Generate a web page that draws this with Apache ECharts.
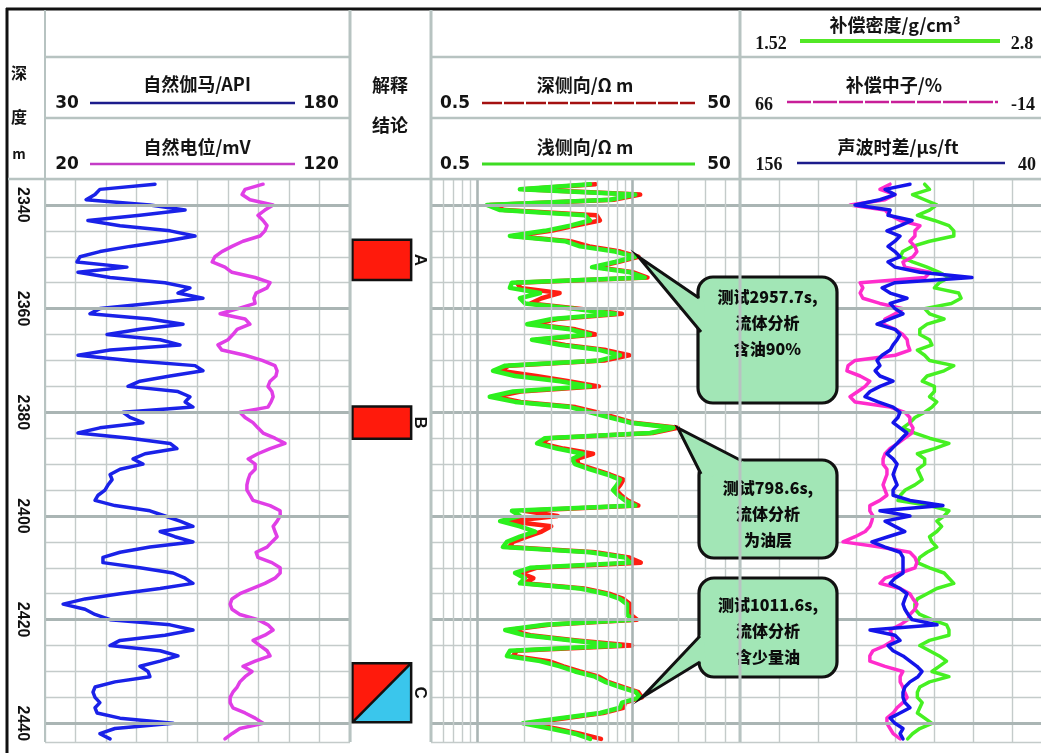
<!DOCTYPE html>
<html>
<head>
<meta charset="utf-8">
<script src="https://cdn.jsdelivr.net/npm/echarts@6/dist/echarts.min.js"></script>
<style>
  html, body { margin: 0; padding: 0; background: #fff; }
  #chart { width: 1041px; height: 753px; }
</style>
</head>
<body>
<div id="chart"></div>
<script>
// ---------------- well log samples (1 m step) ----------------
const depths = [
  2336,2337,2338,2339,2340,2341,2342,2343,2344,2345,2346,2347,2348,2349,2350,2351,2352,2353,2354,2355,
  2356,2357,2358,2359,2360,2361,2362,2363,2364,2365,2366,2367,2368,2369,2370,2371,2372,2373,2374,2375,
  2376,2377,2378,2379,2380,2381,2382,2383,2384,2385,2386,2387,2388,2389,2390,2391,2392,2393,2394,2395,
  2396,2397,2398,2399,2400,2401,2402,2403,2404,2405,2406,2407,2408,2409,2410,2411,2412,2413,2414,2415,
  2416,2417,2418,2419,2420,2421,2422,2423,2424,2425,2426,2427,2428,2429,2430,2431,2432,2433,2434,2435,
  2436,2437,2438,2439,2440,2441,2442,2443
];
// 自然伽马 (API)
const gammaRay = [
  84.1,57.0,54.6,50.2,81.6,98.9,76.7,51.1,66.9,91.5,103.8,89.0,71.8,57.0,47.2,45.7,70.3,46.2,62.0,89.0,
  101.3,95.4,107.7,81.6,57.0,52.1,81.6,97.9,76.7,60.5,86.6,96.4,62.0,46.2,71.8,103.8,107.7,91.5,76.7,70.8,
  95.4,101.3,98.9,102.8,68.4,71.8,78.2,57.0,46.2,71.8,91.5,94.9,79.2,73.3,78.2,66.9,62.0,63.0,61.0,59.5,
  56.1,54.6,64.4,81.6,89.0,96.4,102.8,86.6,93.9,102.8,81.6,66.9,58.5,58.5,76.7,93.0,98.9,102.8,86.6,66.9,
  49.7,38.9,49.7,54.6,62.0,91.5,102.8,89.0,66.9,62.0,86.6,95.4,86.6,76.7,80.7,81.6,64.4,54.6,53.6,54.6,
  57.0,54.6,55.6,66.9,93.0,64.4,57.0,62.0
];
// 自然电位 (mV)
const spontaneousPotential = [
  91.5,85.6,84.6,87.2,94.8,92.1,89.8,91.5,92.8,92.1,90.5,84.9,81.3,78.0,75.7,74.8,79.0,81.3,88.9,93.8,
  92.8,89.2,88.5,88.9,83.3,77.4,85.6,87.2,83.0,81.6,80.0,76.7,78.0,85.6,91.2,95.4,96.1,95.7,93.8,93.1,
  94.4,94.8,94.1,93.1,83.9,85.6,88.2,89.8,91.5,95.4,98.7,93.8,89.8,86.6,88.9,88.9,87.2,86.6,86.2,86.2,
  87.2,88.2,93.8,97.1,97.1,96.1,94.8,95.4,96.1,94.4,92.8,89.2,89.8,94.4,97.1,97.1,95.4,92.1,87.9,83.9,
  81.3,80.7,81.3,83.9,89.8,93.1,94.8,92.1,88.2,90.5,92.8,93.8,88.9,84.9,87.9,85.6,83.9,83.0,81.6,80.7,
  80.7,81.6,85.6,88.9,91.5,83.9,81.3,79.0
];
// 深侧向 (Ω·m)
const deepRes = [
  5.8,2.0,11.3,7.6,1.2,1.5,5.9,6.2,4.3,3.0,1.7,4.0,5.3,8.4,11.0,8.1,5.9,10.2,12.6,1.8,
  1.9,3.4,2.6,2.2,4.4,8.6,3.3,2.3,4.3,5.8,2.4,3.7,6.8,9.6,6.6,1.6,1.4,2.4,3.9,6.1,
  1.9,1.3,1.9,4.3,5.9,7.8,10.2,19.8,13.6,2.9,2.6,3.6,5.6,4.4,4.5,5.7,7.2,8.8,8.4,7.9,
  8.5,9.4,11.0,2.0,3.3,1.6,3.0,2.6,2.1,1.7,1.6,5.8,9.6,11.4,2.4,1.9,2.3,2.0,4.9,7.1,
  8.8,9.7,9.7,9.8,10.8,2.9,1.6,2.2,4.4,10.0,1.8,1.7,2.9,3.6,4.6,6.1,7.0,8.8,11.0,11.6,
  9.0,8.8,6.5,3.7,2.1,3.2,4.6,6.3
];
// 浅侧向 (Ω·m)
const shallowRes = [
  5.35,1.88,10.5,7.21,1.15,1.40,4.96,5.35,3.97,2.73,1.62,3.68,4.61,7.76,10.5,7.76,5.51,9.70,12.1,1.67,
  1.62,2.54,1.88,2.03,4.09,7.76,3.03,2.09,3.97,5.35,2.25,3.42,6.21,8.36,6.21,1.51,1.26,1.75,3.42,5.35,
  1.70,1.20,1.75,3.97,5.35,7.21,9.70,18.5,13.1,2.73,2.43,3.27,4.82,4.09,4.28,5.35,6.89,8.36,8.00,7.53,
  8.12,9.01,10.5,1.67,1.88,1.40,1.88,2.36,1.88,1.55,1.46,5.35,9.01,9.70,2.19,1.75,2.03,1.88,4.61,6.69,
  8.36,9.28,9.28,9.28,10.1,2.73,1.51,2.03,4.09,8.36,1.62,1.55,2.54,3.42,4.28,5.76,6.69,8.36,10.6,11.3,
  8.62,8.36,6.21,3.42,1.97,2.95,4.28,5.35
];
// 补偿密度 (g/cm³)
const density = [
  2.28,2.30,2.23,2.28,2.33,2.30,2.25,2.32,2.38,2.40,2.40,2.30,2.23,2.19,2.18,2.23,2.29,2.34,2.38,2.34,
  2.32,2.42,2.43,2.39,2.28,2.30,2.36,2.29,2.26,2.26,2.30,2.31,2.25,2.28,2.30,2.40,2.36,2.29,2.27,2.32,
  2.32,2.30,2.33,2.31,2.28,2.24,2.22,2.19,2.24,2.30,2.38,2.32,2.25,2.28,2.28,2.25,2.26,2.27,2.24,2.20,
  2.18,2.17,2.30,2.38,2.36,2.33,2.35,2.33,2.30,2.31,2.33,2.29,2.26,2.25,2.30,2.36,2.38,2.40,2.33,2.29,
  2.25,2.24,2.24,2.26,2.31,2.37,2.38,2.38,2.30,2.26,2.30,2.34,2.37,2.34,2.31,2.38,2.30,2.26,2.25,2.25,
  2.27,2.26,2.25,2.28,2.31,2.26,2.23,2.21
];
// 补偿中子 (%)
const neutron = [
  27.4,30.0,26.1,28.7,37.7,28.7,27.4,24.8,19.7,21.0,21.0,22.3,21.0,20.5,21.5,24.1,23.6,17.1,18.4,35.1,
  34.4,35.1,34.4,30.0,24.1,26.1,28.7,29.2,26.1,24.1,23.0,22.8,22.3,26.1,36.4,38.2,38.5,35.1,32.6,33.8,
  35.7,37.7,36.4,27.4,23.6,22.3,22.3,21.5,21.8,23.6,25.4,27.4,28.7,29.2,29.2,28.2,28.2,28.7,29.2,28.7,
  28.2,30.0,32.6,32.6,31.8,32.1,32.6,33.8,36.4,39.5,30.0,22.3,21.0,20.5,21.0,24.8,28.7,30.0,24.8,22.3,
  21.5,20.5,21.0,22.3,22.8,24.8,27.4,26.9,26.6,28.7,31.8,32.6,32.6,28.7,24.1,24.8,24.8,24.1,23.6,23.0,
  24.1,25.6,26.6,28.2,28.2,27.4,26.6,24.8
];
// 声波时差 (μs/ft)
const sonic = [
  92.6,101.9,98.2,103.8,113.1,100.0,100.8,91.8,96.3,101.2,96.3,98.2,100.8,98.2,96.3,100.8,98.2,88.9,69.5,98.2,
  103.0,100.0,93.7,100.0,98.2,95.2,100.0,104.9,98.2,96.3,97.4,98.9,100.0,103.0,104.9,103.8,105.6,103.8,98.9,103.8,
  107.5,109.4,104.5,98.9,96.3,97.1,98.9,96.3,93.7,95.6,97.4,99.3,101.2,98.9,97.4,98.2,98.9,98.2,97.4,98.9,
  98.9,92.6,80.3,103.8,92.6,101.9,98.2,94.5,100.8,106.8,101.9,96.3,95.2,95.2,95.2,95.2,98.2,100.0,96.3,93.7,
  94.5,95.2,94.5,93.3,91.8,82.5,107.5,98.2,96.3,100.8,98.9,95.2,92.6,90.0,88.1,89.6,92.6,94.5,95.2,95.2,
  94.5,92.6,96.3,100.0,98.2,95.2,96.3,95.2
];

// depth labels and major lines
const depthMajor = [2340, 2360, 2380, 2400, 2420, 2440];
// resistivity log grid values
const resMinorLines = [0.6, 0.7, 0.8, 0.9, 2, 3, 4, 5, 6, 7, 8, 9, 20, 30, 40];
const resMajorLines = [1, 10];

// interpretation intervals
const zoneNames = ['A', 'B', 'C'];
const zoneTops = [2346.7, 2378.9, 2428.4];
const zoneBottoms = [2354.5, 2385.1, 2439.8];
const zoneKinds = ['oil', 'oil', 'oilWater'];

// test annotations, anchored on the deep resistivity curve
const calloutDepths = [2350, 2383, 2435];
const calloutTexts = [
  ['测试2957.7s,', '流体分析', '含油90%'],
  ['测试798.6s,', '流体分析', '为油层'],
  ['测试1011.6s,', '流体分析', '含少量油']
];

// ---------------- layout ----------------
const TOP = 179, BOTTOM = 742;
const DMIN = 2335, DMAX = 2443.6;
const TRACK1 = [45, 350], INTERP = [350, 431], RES = [431, 740], POR = [740, 1051];
const GRID_C = '#c4cbca', MAJOR_C = '#aab5b4', BORDER_C = '#b7c3c1';
const CJK = '"Noto Sans CJK SC", "Noto Sans", sans-serif';

// callout boxes (pixel layout) and where each pointer meets its box
const calloutLayout = [
  { x: 698, y: 277, w: 139, h: 126, ty: 297, base: [[699, 298], [701, 332]] },
  { x: 699, y: 460, w: 138, h: 98,  ty: 488, base: [[701, 474], [742, 461]] },
  { x: 699, y: 578, w: 138, h: 99,  ty: 605, base: [[700, 636], [700, 662]] }
];

const pairs = (vals) => depths.map((d, i) => [vals[i], d]);

function depthAxis(gridIndex, showLabels) {
  return {
    type: 'value', gridIndex, min: DMIN, max: DMAX, interval: 5, inverse: true,
    axisLine: { show: false }, axisTick: { show: false },
    splitLine: { show: gridIndex !== 1, lineStyle: { color: GRID_C, width: 1.4 } },
    axisLabel: {
      show: showLabels, rotate: -90, margin: 15, fontSize: 16, fontWeight: 'bold',
      fontFamily: '"Liberation Sans", Arial, sans-serif', color: '#111',
      formatter: (v) => (depthMajor.indexOf(v) >= 0 ? String(v) : '')
    }
  };
}
function hiddenX(gridIndex, extra) {
  return Object.assign({
    type: 'value', gridIndex, position: 'top',
    axisLine: { show: false }, axisTick: { show: false }, axisLabel: { show: false },
    splitLine: { show: false }
  }, extra);
}
function majorDepthLines() {
  return {
    silent: true, symbol: ['none', 'none'], animation: false,
    label: { show: false },
    lineStyle: { color: MAJOR_C, width: 3, type: 'solid' },
    data: depthMajor.map((d) => ({ yAxis: d }))
  };
}
function curve(name, vals, xi, yi, color, width, z) {
  return {
    name, type: 'line', xAxisIndex: xi, yAxisIndex: yi, data: pairs(vals),
    showSymbol: false, symbol: 'none', z, animation: false, silent: true,
    lineStyle: { color, width, join: 'round', cap: 'round' }
  };
}

// ---------------- header (static decorations) ----------------
const G = [];
function txt(x, y, s, font, align) {
  G.push({ type: 'text', x, y, z: 100, silent: true,
    style: { text: s, x: 0, y: 0, font, fill: '#141414', textAlign: align || 'center', textVerticalAlign: 'middle' } });
}
function ln(x1, y1, x2, y2, stroke, w, dash) {
  G.push({ type: 'line', z: 99, silent: true, shape: { x1, y1, x2, y2 },
    style: { stroke, lineWidth: w, lineDash: dash || null } });
}
const fTitle = 'bold 18px ' + CJK;
const fNum = 'bold 17px "DejaVu Sans", sans-serif';
const fNumSerif = 'bold 18px "Liberation Serif", serif';

// frame
ln(6, 9, 1041, 9, '#111', 3);
ln(7, 8, 7, 753, '#111', 3);
ln(45, 10, 45, BOTTOM, BORDER_C, 2);
ln(350, 10, 350, BOTTOM, BORDER_C, 3);
ln(431, 10, 431, BOTTOM, BORDER_C, 3);
ln(740, 10, 740, BOTTOM, BORDER_C, 3);
[57, 118].forEach((y) => { ln(45, y, 350, y, BORDER_C, 2.5); ln(431, y, 1041, y, BORDER_C, 2.5); });
ln(8, TOP, 1041, TOP, BORDER_C, 2.5);

// depth column
txt(19, 73, '深', 'bold 16px ' + CJK);
txt(19, 117, '度', 'bold 16px ' + CJK);
txt(19, 154, 'm', 'bold 14px ' + CJK);

// track 1
txt(197, 84, '自然伽马/API', fTitle);
txt(67, 104, '30', fNum); txt(321, 104, '180', fNum);
ln(90, 103, 295, 103, '#1c1c8c', 2.5);
txt(197, 147, '自然电位/mV', fTitle);
txt(67, 165, '20', fNum); txt(321, 165, '120', fNum);
ln(90, 164, 295, 164, '#c43cc6', 2.5);

// interpretation column
txt(390, 85, '解释', fTitle);
txt(390, 125, '结论', fTitle);

// resistivity track
txt(585, 85, '深侧向/Ω m', fTitle);
txt(455, 104, '0.5', fNum); txt(719, 104, '50', fNum);
ln(482, 103, 695, 103, '#a41010', 2.5, [20, 2]);
txt(585, 147, '浅侧向/Ω m', fTitle);
txt(455, 165, '0.5', fNum); txt(719, 165, '50', fNum);
ln(482, 164, 695, 164, '#3ddc22', 3);

// porosity track
txt(895, 25, '补偿密度/g/cm³', fTitle);
txt(771, 44, '1.52', fNumSerif); txt(1022, 44, '2.8', fNumSerif);
ln(800, 41, 1000, 41, '#52e826', 4);
txt(894, 85, '补偿中子/%', fTitle);
txt(764, 105, '66', fNumSerif); txt(1023, 105, '-14', fNumSerif);
ln(787, 102, 998, 102, '#c81e98', 2.5, [24, 2]);
txt(898, 147, '声波时差/μs/ft', fTitle);
txt(769, 165, '156', fNumSerif); txt(1027, 165, '40', fNumSerif);
ln(797, 163, 1005, 163, '#1c1c8c', 2.5);

// ---------------- chart ----------------
const grids = [TRACK1, INTERP, RES, POR].map((r) => ({
  left: r[0], top: TOP, width: r[1] - r[0], height: BOTTOM - TOP,
  containLabel: false, outerBoundsMode: 'none', show: false
}));

const xAxes = [
  // 0: gamma ray, carries the vertical grid of track 1
  hiddenX(0, { min: 30, max: 180, interval: 15, splitLine: { show: true, lineStyle: { color: GRID_C, width: 1.4 } } }),
  // 1: spontaneous potential
  hiddenX(0, { min: 20, max: 120 }),
  // 2: interpretation column
  hiddenX(1, { min: 0, max: 1 }),
  // 3: resistivity (log)
  hiddenX(2, { type: 'log', logBase: 10, min: 0.5, max: 50 }),
  // 4: porosity track grid divisions
  hiddenX(3, { min: 0, max: 8, interval: 1, splitLine: { show: true, lineStyle: { color: GRID_C, width: 1.4 } } }),
  // 5: density
  hiddenX(3, { min: 1.52, max: 2.8 }),
  // 6: neutron (66 → -14)
  hiddenX(3, { min: -14, max: 66, inverse: true }),
  // 7: sonic (156 → 40)
  hiddenX(3, { min: 40, max: 156, inverse: true })
];
const yAxes = [depthAxis(0, true), depthAxis(1, false), depthAxis(2, false), depthAxis(3, false)];

const zoneData = zoneNames.map((n, i) => [0.5, zoneTops[i], zoneBottoms[i], i]);

function renderZone(params, api) {
  const i = api.value(3);
  const a = api.coord([0.03, api.value(1)]);
  const b = api.coord([0.755, api.value(2)]);
  const mid = api.coord([0.865, (api.value(1) + api.value(2)) / 2]);
  const children = [];
  if (zoneKinds[i] === 'oilWater') {
    children.push({ type: 'polygon', shape: { points: [[a[0], a[1]], [b[0], a[1]], [a[0], b[1]]] }, style: { fill: '#ff1a0c' } });
    children.push({ type: 'polygon', shape: { points: [[b[0], a[1]], [b[0], b[1]], [a[0], b[1]]] }, style: { fill: '#3ac6ec' } });
    children.push({ type: 'line', shape: { x1: a[0], y1: b[1], x2: b[0], y2: a[1] }, style: { stroke: '#111', lineWidth: 2.5 } });
    children.push({ type: 'rect', shape: { x: a[0], y: a[1], width: b[0] - a[0], height: b[1] - a[1] }, style: { fill: null, stroke: '#111', lineWidth: 2.5 } });
  } else {
    children.push({ type: 'rect', shape: { x: a[0], y: a[1], width: b[0] - a[0], height: b[1] - a[1] }, style: { fill: '#ff1a0c', stroke: '#111', lineWidth: 2.5 } });
  }
  children.push({ type: 'text', x: mid[0], y: mid[1], rotation: -Math.PI / 2,
    style: { text: zoneNames[i], x: 0, y: 0, font: 'bold 17px "Liberation Sans", sans-serif', fill: '#111', textAlign: 'center', textVerticalAlign: 'middle' } });
  return { type: 'group', children };
}

const calloutData = calloutDepths.map((d, i) => [deepRes[depths.indexOf(d)], d, i]);

function renderCallout(params, api) {
  const i = api.value(2);
  const L = calloutLayout[i];
  const apex = api.coord([api.value(0), api.value(1)]);
  const fill = '#a2e6b6';
  const push = (p) => {
    const dx = p[0] - apex[0], dy = p[1] - apex[1];
    const len = Math.sqrt(dx * dx + dy * dy);
    return [p[0] + dx / len * 6, p[1] + dy / len * 6];
  };
  const b0 = L.base[0], b1 = L.base[1];
  const children = [
    { type: 'rect', shape: { x: L.x, y: L.y, width: L.w, height: L.h, r: 15 }, style: { fill, stroke: '#111', lineWidth: 3.2 } },
    { type: 'polygon', shape: { points: [apex, push(b0), push(b1)] }, style: { fill } },
    { type: 'polyline', shape: { points: [b0, apex, b1] }, style: { stroke: '#111', lineWidth: 3, fill: null, lineJoin: 'miter' } }
  ];
  calloutTexts[i].forEach((t, k) => {
    children.push({ type: 'text', x: L.x + L.w / 2, y: L.ty + k * 26,
      style: { text: t, x: 0, y: 0, font: '900 16px ' + CJK, fill: '#0c0c0c', textAlign: 'center', textVerticalAlign: 'middle' } });
  });
  return { type: 'group', children };
}

const solid = (color, width) => ({ color, width, type: 'solid' });

const series = [
  // track 1
  { type: 'line', xAxisIndex: 0, yAxisIndex: 0, data: [], z: 1, markLine: majorDepthLines() },
  curve('自然电位', spontaneousPotential, 1, 0, '#e03ee6', 3.5, 3),
  curve('自然伽马', gammaRay, 0, 0, '#1a22e8', 3.5, 4),
  // interpretation
  { type: 'custom', xAxisIndex: 2, yAxisIndex: 1, data: zoneData, encode: { x: 0, y: [1, 2] },
    renderItem: renderZone, clip: false, z: 5, silent: true, animation: false },
  // resistivity
  { type: 'line', xAxisIndex: 3, yAxisIndex: 2, data: [], z: 1,
    markLine: {
      silent: true, symbol: ['none', 'none'], animation: false, label: { show: false },
      lineStyle: solid(GRID_C, 1.4),
      data: depthMajor.map((d) => ({ yAxis: d, lineStyle: solid(MAJOR_C, 3) }))
        .concat(resMinorLines.map((v) => ({ xAxis: v, lineStyle: solid(GRID_C, 1.4) })))
        .concat(resMajorLines.map((v) => ({ xAxis: v, lineStyle: solid(MAJOR_C, 2.6) })))
    } },
  curve('深侧向', deepRes, 3, 2, '#ff1e12', 4.5, 3),
  curve('浅侧向', shallowRes, 3, 2, '#2cf01e', 4.5, 4),
  // porosity
  { type: 'line', xAxisIndex: 4, yAxisIndex: 3, data: [], z: 1, markLine: majorDepthLines() },
  curve('补偿密度', density, 5, 3, '#46f022', 3.5, 3),
  curve('补偿中子', neutron, 6, 3, '#ff2ccc', 3.5, 4),
  curve('声波时差', sonic, 7, 3, '#1414ea', 3.5, 5),
  // annotations
  { type: 'custom', xAxisIndex: 3, yAxisIndex: 2, data: calloutData, encode: { x: 0, y: 1 },
    renderItem: renderCallout, clip: false, z: 20, silent: true, animation: false }
];

const chart = echarts.init(document.getElementById('chart'));
chart.setOption({
  backgroundColor: '#ffffff',
  animation: false,
  grid: grids,
  xAxis: xAxes,
  yAxis: yAxes,
  series,
  graphic: { elements: G }
});
</script>
</body>
</html>
